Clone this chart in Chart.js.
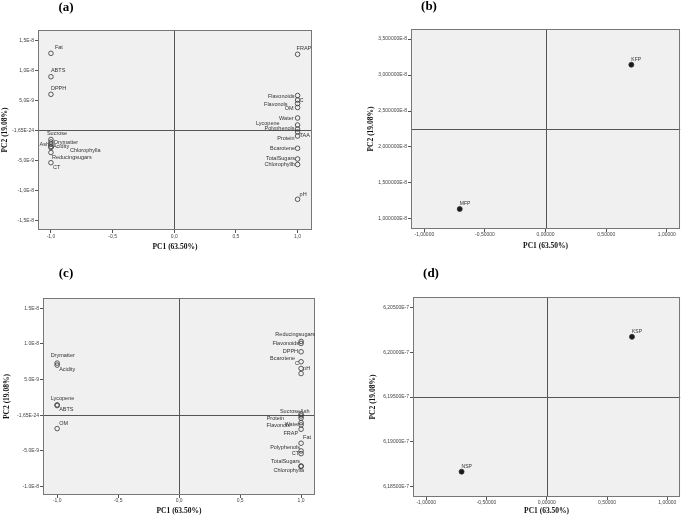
<!DOCTYPE html>
<html>
<head>
<meta charset="utf-8">
<script src="https://cdn.jsdelivr.net/npm/chart.js@4.4.0/dist/chart.umd.min.js"></script>
<style>
  body { margin: 0; background: #fff; }
  .panel { position: absolute; }
</style>
</head>
<body>
<canvas id="chart-a" class="panel" width="340" height="258" style="left:0;top:0"></canvas>
<canvas id="chart-b" class="panel" width="345" height="258" style="left:340px;top:0"></canvas>
<canvas id="chart-c" class="panel" width="340" height="258" style="left:0;top:258px"></canvas>
<canvas id="chart-d" class="panel" width="345" height="258" style="left:340px;top:258px"></canvas>
<script>
// PC1 axis ticks (shared)
const pc1Ticks = [-1, -0.5, 0, 0.5, 1];
const pc1LabelsShort = ['-1,0', '-0,5', '0,0', '0,5', '1,0'];
const pc1LabelsLong = ['-1,00000', '-0,50000', '0,00000', '0,50000', '1,00000'];

// (a) variable loadings
const aNames = ['Fat', 'ABTS', 'DPPH', 'Sucrose', 'Drymatter', 'Ash', 'Acidity', 'Chlorophylla', 'Reducingsugars', 'CT',
    'FRAP', 'Flavonoids', 'C', 'Flavonols', 'OM', 'Water', 'Lycopene', 'Polyphenols', 'TAA', 'Protein',
    'Bcarotene', 'TotalSugars', 'Chlorophyllb', 'pH'];
const aPC1 = [-1, -1, -1, -1, -1, -1, -1, -1, -1, -1,
    1, 1, 1, 1, 1, 1, 1, 1, 1, 1, 1, 1, 1, 1];
const aPC2 = [1.283e-8, 8.93e-9, 6.0e-9, -1.53e-9, -1.95e-9, -2.33e-9, -2.7e-9, -2.87e-9, -3.7e-9, -5.4e-9,
    1.267e-8, 5.8e-9, 5.05e-9, 4.47e-9, 3.8e-9, 2.05e-9, 0.88e-9, 0.22e-9, -0.28e-9, -0.95e-9,
    -3.0e-9, -4.78e-9, -5.7e-9, -1.15e-8];
const aTicks = [-1.5e-8, -1e-8, -5e-9, -1.65e-24, 5e-9, 1e-8, 1.5e-8];
const aTickLabels = ['-1,5E-8', '-1,0E-8', '-5,0E-9', '-1,65E-24', '5,0E-9', '1,0E-8', '1,5E-8'];

// (b) sample scores
const bNames = ['KFP', 'MFP'];
const bPC1 = [0.707, -0.708];
const bPC2 = [3.143e-8, 1.139e-8];
const bTicks = [1e-8, 1.5e-8, 2e-8, 2.5e-8, 3e-8, 3.5e-8];
const bTickLabels = ['1,000000E-8', '1,500000E-8', '2,000000E-8', '2,500000E-8', '3,000000E-8', '3,500000E-8'];

// (c) variable loadings
const cNames = ['Drymatter', 'Acidity', 'Lycopene', 'ABTS', 'OM',
    'Reducingsugars', 'Flavonoids', 'DPPH', 'Bcarotene', 'C', 'pH', 'Sucrose', 'Ash', 'Protein',
    'Flavonols', 'Water', 'FRAP', 'Fat', 'Polyphenols', 'CT', 'TotalSugars', 'Chlorophylla'];
const cPC1 = [-1, -1, -1, -1, -1,
    1, 1, 1, 1, 1, 1, 1, 1, 1, 1, 1, 1, 1, 1, 1, 1, 1];
const cPC2 = [7.30e-9, 7.02e-9, 1.45e-9, 1.35e-9, -1.88e-9,
    1.034e-8, 1.006e-8, 8.89e-9, 7.49e-9, 6.55e-9, 5.84e-9, 0.14e-9, -0.1e-9, -0.42e-9,
    -1.04e-9, -1.36e-9, -1.97e-9, -3.93e-9, -5.01e-9, -5.39e-9, -7.12e-9, -7.19e-9];
const cTicks = [-1e-8, -5e-9, -1.65e-24, 5e-9, 1e-8, 1.5e-8];
const cTickLabels = ['-1.0E-8', '-5.0E-9', '-1,65E-24', '5.0E-9', '1.0E-8', '1.5E-8'];

// (d) sample scores
const dNames = ['KSP', 'NSP'];
const dPC1 = [0.707, -0.707];
const dPC2 = [6.20173e-7, 6.18667e-7];
const dTicks = [6.185e-7, 6.19e-7, 6.195e-7, 6.2e-7, 6.205e-7];
const dTickLabels = ['6,18500E-7', '6,19000E-7', '6,19500E-7', '6,20000E-7', '6,20500E-7'];

// label placement [dx, dy, align]
const aPlace = [
    [4, -6, 'l'], [0, -6, 'l'], [0, -6, 'l'], [-4, -5.5, 'l'], [3, 0, 'l'], [-2, 0, 'r'], [2, 0, 'l'],
    [19, 2.5, 'l'], [1, 5, 'l'], [2, 5, 'l'],
    [-1, -6, 'l'], [-3, 1, 'r'], [2, 0.5, 'l'], [-10, 0.5, 'r'], [-4, 1, 'r'], [-4, 0, 'r'], [-18, -2, 'r'],
    [-3, 0, 'r'], [2, 3.5, 'l'], [-3, 2, 'r'], [-2.5, 0, 'r'], [-2.5, 0, 'r'], [-2.5, 0, 'r'], [2, -5, 'l']
];
const cPlace = [
    [-6.5, -8, 'l'], [2, 4, 'l'], [-6.5, -6, 'l'], [2, 4, 'l'], [2, -5, 'l'],
    [14, -6.5, 'r'], [-2, 0, 'r'], [-3, 0, 'r'], [-6, -3.5, 'r'], [-2, -5, 'r'], [2, -5, 'l'],
    [-1, -3, 'r'], [-1, -4.7, 'l'], [-17, 0.7, 'r'], [-11, 3.3, 'r'], [-2, 0, 'r'], [-3, 4.7, 'r'],
    [2, -6, 'l'], [-1, -3.3, 'r'], [-2, 0.3, 'r'], [-1, -4.3, 'r'], [3, 4.5, 'r']
];
const samplePlace = [[0, -5.5, 'l'], [0, -5.5, 'l']];

// plot background, frame, reference lines, point names, panel letter
const panelPlugin = {
    id: 'panel',
    beforeDraw(chart) {
        const a = chart.chartArea, ctx = chart.ctx;
        ctx.save();
        ctx.fillStyle = '#f0f0f0';
        ctx.fillRect(a.left, a.top, a.right - a.left, a.bottom - a.top);
        ctx.restore();
    },
    beforeDatasetsDraw(chart, args, opts) {
        const a = chart.chartArea, ctx = chart.ctx;
        const px = Math.round(chart.scales.x.getPixelForValue(0)) + 0.5;
        const py = Math.round(chart.scales.y.getPixelForValue(opts.yRef)) + 0.5;
        ctx.save();
        ctx.strokeStyle = '#555';
        ctx.lineWidth = 1;
        ctx.beginPath();
        ctx.moveTo(px, a.top); ctx.lineTo(px, a.bottom);
        ctx.moveTo(a.left, py); ctx.lineTo(a.right, py);
        ctx.stroke();
        ctx.restore();
    },
    afterDraw(chart, args, opts) {
        const a = chart.chartArea, ctx = chart.ctx;
        const meta = chart.getDatasetMeta(0);
        ctx.save();
        ctx.strokeStyle = '#777';
        ctx.lineWidth = 1;
        ctx.strokeRect(Math.round(a.left) + 0.5, Math.round(a.top) + 0.5,
            Math.round(a.right - a.left) - 1, Math.round(a.bottom - a.top) - 1);

        ctx.fillStyle = '#333';
        ctx.font = opts.nameSize + 'px "Liberation Sans", Arial, sans-serif';
        ctx.textBaseline = 'middle';
        meta.data.forEach((pt, i) => {
            const p = opts.place[i];
            ctx.textAlign = p[2] === 'r' ? 'right' : 'left';
            ctx.fillText(opts.names[i], pt.x + p[0], pt.y + p[1]);
        });

        ctx.fillStyle = '#000';
        ctx.font = 'bold 13px "Liberation Serif", "Times New Roman", serif';
        ctx.textAlign = 'center';
        ctx.fillText(opts.letter, opts.letterX, opts.letterY);
        ctx.restore();
    }
};

function makePanel(id, o) {
    const canvas = document.getElementById(id);
    const W = canvas.width, H = canvas.height;
    const points = o.pc1.map((x, i) => ({ x: x, y: o.pc2[i] }));
    const tickFont = { family: '"Liberation Sans", Arial, sans-serif', size: 5 };
    const titleFont = { family: '"Liberation Serif", "Times New Roman", serif', size: 7.5, weight: 'bold' };

    return new Chart(canvas, {
        type: 'scatter',
        data: {
            datasets: [{
                data: points,
                pointStyle: 'circle',
                pointRadius: o.filled ? 2.5 : 2.3,
                pointBorderWidth: 0.8,
                pointBorderColor: '#333',
                pointBackgroundColor: o.filled ? '#1a1a1a' : 'rgba(0,0,0,0)'
            }]
        },
        options: {
            responsive: false,
            animation: false,
            events: [],
            layout: { padding: { left: 0, top: o.area.top, right: W - o.area.right, bottom: 0 } },
            scales: {
                x: {
                    type: 'linear',
                    min: o.xMin,
                    max: o.xMax,
                    afterFit: s => { s.height = H - o.area.bottom; },
                    afterBuildTicks: s => { s.ticks = pc1Ticks.map(v => ({ value: v })); },
                    ticks: {
                        autoSkip: false, maxRotation: 0, padding: o.xTickPad, color: '#444', font: tickFont,
                        callback: (v, i) => o.xLabels[i]
                    },
                    grid: { drawOnChartArea: false, tickLength: 3, color: '#555' },
                    border: { display: false },
                    title: {
                        display: true, text: 'PC1 (63.50%)', color: '#111', font: titleFont,
                        padding: { top: 0, bottom: o.xTitlePad }
                    }
                },
                y: {
                    type: 'linear',
                    min: o.yMin,
                    max: o.yMax,
                    afterFit: s => { s.width = o.area.left; },
                    afterBuildTicks: s => { s.ticks = o.yTicks.map(v => ({ value: v })); },
                    ticks: {
                        autoSkip: false, padding: 1, color: '#444', font: tickFont,
                        callback: (v, i) => o.yLabels[i]
                    },
                    grid: { drawOnChartArea: false, tickLength: 3, color: '#555' },
                    border: { display: false },
                    title: {
                        display: true, text: 'PC2 (19.08%)', color: '#111', font: titleFont,
                        padding: { top: o.yTitlePad, bottom: 0 }
                    }
                }
            },
            plugins: {
                legend: { display: false },
                tooltip: { enabled: false },
                panel: {
                    yRef: o.yRef,
                    names: o.names,
                    place: o.place,
                    nameSize: o.nameSize,
                    letter: o.letter,
                    letterX: o.letterX,
                    letterY: o.letterY
                }
            }
        },
        plugins: [panelPlugin]
    });
}

document.addEventListener('DOMContentLoaded', function () {
    makePanel('chart-a', {
        names: aNames, pc1: aPC1, pc2: aPC2, place: aPlace, filled: false, nameSize: 5.5,
        xMin: -1.105, xMax: 1.117, yMin: -1.662e-8, yMax: 1.672e-8, yRef: 0,
        yTicks: aTicks, yLabels: aTickLabels, xLabels: pc1LabelsShort,
        area: { left: 38, right: 312, top: 30, bottom: 230 },
        xTickPad: 1, xTitlePad: 6.5, yTitlePad: 0.5,
        letter: '(a)', letterX: 66, letterY: 8
    });

    makePanel('chart-b', {
        names: bNames, pc1: bPC1, pc2: bPC2, place: samplePlace, filled: true, nameSize: 5,
        xMin: -1.11, xMax: 1.11, yMin: 8.61e-9, yMax: 3.639e-8, yRef: 2.25e-8,
        yTicks: bTicks, yLabels: bTickLabels, xLabels: pc1LabelsLong,
        area: { left: 71, right: 343, top: 29, bottom: 229 },
        xTickPad: 0, xTitlePad: 7, yTitlePad: 27,
        letter: '(b)', letterX: 89, letterY: 7
    });

    makePanel('chart-c', {
        names: cNames, pc1: cPC1, pc2: cPC2, place: cPlace, filled: false, nameSize: 5.5,
        xMin: -1.116, xMax: 1.114, yMin: -1.119e-8, yMax: 1.643e-8, yRef: 0,
        yTicks: cTicks, yLabels: cTickLabels, xLabels: pc1LabelsShort,
        area: { left: 43, right: 315, top: 40, bottom: 237 },
        xTickPad: 0, xTitlePad: 0, yTitlePad: 2.5,
        letter: '(c)', letterX: 66, letterY: 16
    });

    makePanel('chart-d', {
        names: dNames, pc1: dPC1, pc2: dPC2, place: samplePlace, filled: true, nameSize: 5,
        xMin: -1.11, xMax: 1.107, yMin: 6.18384e-7, yMax: 6.20618e-7, yRef: 6.195e-7,
        yTicks: dTicks, yLabels: dTickLabels, xLabels: pc1LabelsLong,
        area: { left: 73, right: 343, top: 39, bottom: 239 },
        xTickPad: 0, xTitlePad: 0, yTitlePad: 29,
        letter: '(d)', letterX: 91, letterY: 16
    });
});
</script>
</body>
</html>
